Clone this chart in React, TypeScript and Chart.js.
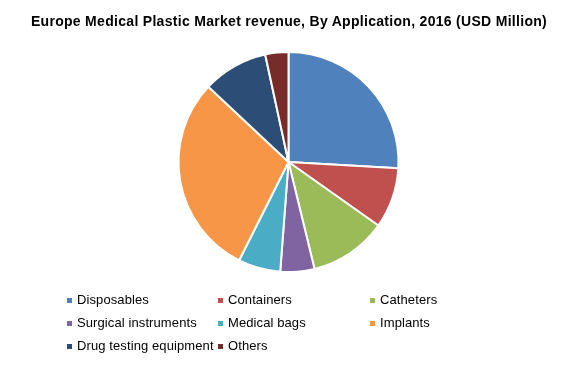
import React, { useEffect, useRef } from "react";
import { Chart, registerables } from "chart.js";

Chart.register(...registerables);

const title = "Europe Medical Plastic Market revenue, By Application, 2016 (USD Million)";
const categories = [
  "Disposables",
  "Containers",
  "Catheters",
  "Surgical instruments",
  "Medical bags",
  "Implants",
  "Drug testing equipment",
  "Others",
];
const shares = [25.9, 8.9, 11.4, 5.0, 6.2, 29.6, 9.6, 3.4];
const colors = [
  "#4F81BD",
  "#C0504D",
  "#9BBB59",
  "#8064A2",
  "#4BACC6",
  "#F79646",
  "#2C4D75",
  "#772C2A",
];

const FONT = "'Liberation Sans', Arial, sans-serif";

export default function App() {
  const ref = useRef<HTMLCanvasElement>(null);

  useEffect(() => {
    document.body.style.margin = "0";
    const chart = new Chart(ref.current!, {
      type: "pie",
      data: {
        labels: categories,
        datasets: [
          {
            data: shares,
            backgroundColor: colors,
            borderColor: "#ffffff",
            borderWidth: 2,
          },
        ],
      },
      options: {
        responsive: false,
        animation: false,
        layout: { padding: { top: 51, bottom: 96, left: 3, right: 0 } },
        plugins: {
          legend: { display: false },
          tooltip: { enabled: false },
          title: { display: false },
        },
      },
    });
    return () => chart.destroy();
  }, []);

  const colLeft = [67, 218, 370];
  const rowTop = [292, 315, 338];

  return (
    <div style={{ position: "relative", width: 574, height: 369, background: "#fff", fontFamily: FONT }}>
      <canvas ref={ref} width={574} height={369} style={{ position: "absolute", left: 0, top: 0 }} />
      <div
        style={{
          position: "absolute",
          left: 0,
          top: 13,
          width: 578,
          textAlign: "center",
          fontWeight: "bold",
          fontSize: 14,
          letterSpacing: 0.3,
          color: "#000",
          whiteSpace: "nowrap",
        }}
      >
        {title}
      </div>
      {categories.map((c, i) => (
        <div
          key={c}
          style={{
            position: "absolute",
            left: colLeft[i % 3],
            top: rowTop[Math.floor(i / 3)],
            fontSize: 13,
            lineHeight: "16px",
            letterSpacing: 0.1,
            color: "#000",
            whiteSpace: "nowrap",
            display: "flex",
            alignItems: "center",
          }}
        >
          <span
            style={{
              display: "inline-block",
              width: 5,
              height: 5,
              background: colors[i],
              marginRight: 5,
            }}
          />
          {c}
        </div>
      ))}
    </div>
  );
}
